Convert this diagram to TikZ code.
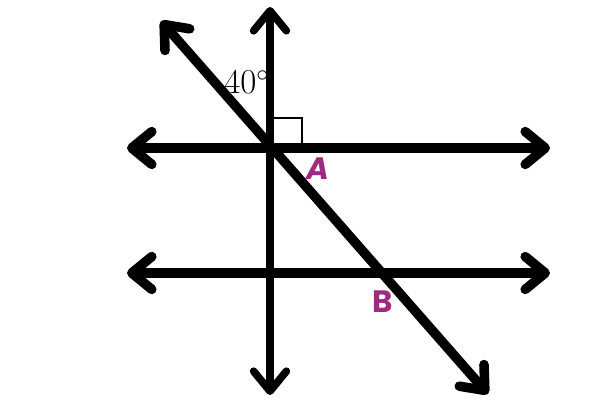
\documentclass[tikz,border=0pt]{standalone}
\usepackage{fontspec}
\newfontfamily\pointfont{Poppins}
\usetikzlibrary{arrows.meta}
\definecolor{PointMagenta}{HTML}{9E2A82}

\begin{document}
\begin{tikzpicture}[
    x=0.025cm, y=-0.025cm,
    barb/.tip={Straight Barb[length=0.5cm,width=0.82cm,line cap=round,line join=round]},
    line/.style={line width=#1, line cap=round, barb-barb},
    line/.default=6.8pt,
    pt/.style={font=\fontsize{22}{26}\selectfont\pointfont\bfseries, color=PointMagenta}
  ]
  \useasboundingbox (0,0) rectangle (600,400);

  % End points of the lines
  \coordinate (topL)  at (127,148);
  \coordinate (topR)  at (550,148);
  \coordinate (botL)  at (127,273);
  \coordinate (botR)  at (550,273);
  \coordinate (vertT) at (270,7);
  \coordinate (vertB) at (270,395);
  \coordinate (diagT) at (161,21);
  \coordinate (diagB) at (488,394);

  % Lines
  \draw[line] (topL) -- (topR);
  \draw[line] (botL) -- (botR);
  \draw[line=5.4pt] (vertB) -- (vertT);
  \draw[line] (diagB) -- (diagT);

  % Right angle mark
  \draw[line width=1.4pt] (270,118) rectangle (302,148);

  % Labels
  \node[font=\fontsize{25}{30}\selectfont, anchor=base west, inner sep=0pt]
    (ang) at (224,94) {$40^\circ$};
  \node[pt, font=\fontsize{22}{26}\selectfont\pointfont\bfseries\itshape] (A) at (318,169) {A};
  \node[pt] (B) at (383,302) {B};

\end{tikzpicture}
\end{document}
